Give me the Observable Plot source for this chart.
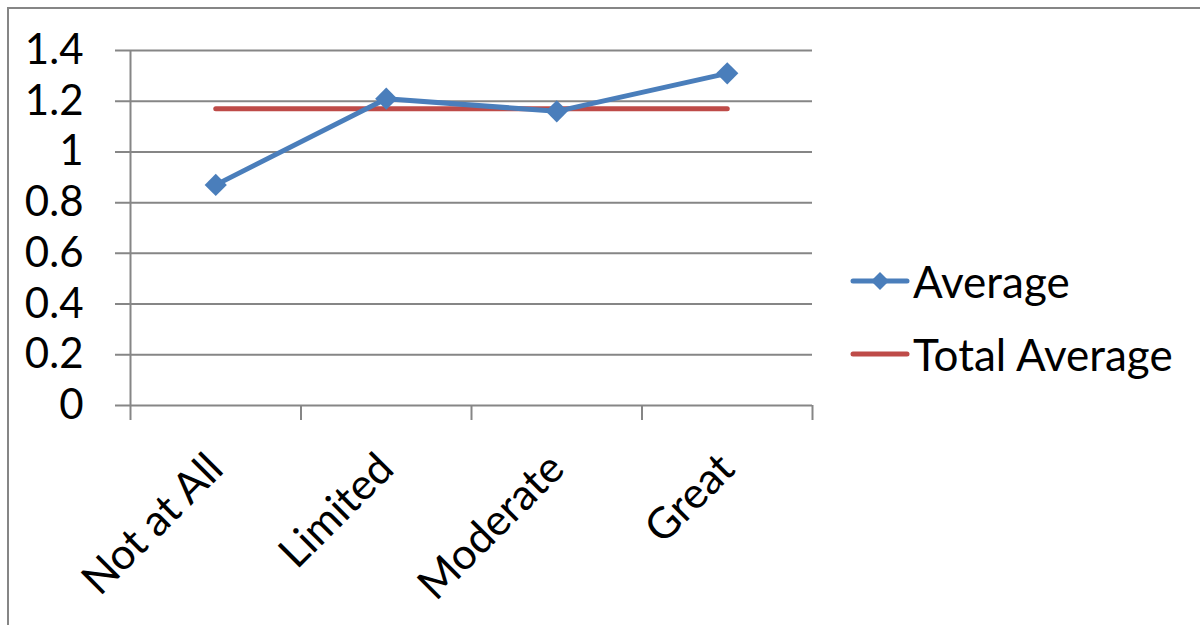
<!DOCTYPE html>
<html>
<head>
<meta charset="utf-8">
<script src="https://cdn.jsdelivr.net/npm/d3@7"></script>
<script src="https://cdn.jsdelivr.net/npm/@observablehq/plot@0.6"></script>
<style>
  html, body { margin: 0; padding: 0; background: #fff; }
  #wrap { position: relative; width: 1200px; height: 625px; overflow: hidden; font-family: Lato, "Open Sans", sans-serif; }
  #frame { position: absolute; left: 7px; top: 7px; width: 1300px; height: 700px; border-left: 2px solid #868686; border-top: 2px solid #868686; box-sizing: border-box; }
  #chart { position: absolute; left: 0; top: 0; }
  #legend { position: absolute; left: 850px; top: 244px; font-size: 44px; color: #000; }
  .item { display: flex; align-items: center; height: 73px; }
  .item svg { margin-right: 3px; }
</style>
</head>
<body>
<div id="wrap">
  <div id="frame"></div>
  <div id="chart"></div>
  <div id="legend"></div>
</div>
<script>
const categories = ["Not at All", "Limited", "Moderate", "Great"];
const average = [0.87, 1.21, 1.16, 1.31];
const totalAverage = [1.17, 1.17, 1.17, 1.17];
const yTicks = [0, 0.2, 0.4, 0.6, 0.8, 1, 1.2, 1.4];
const seriesNames = ["Average", "Total Average"];
const seriesColors = ["#4a7ebb", "#be4b48"];

const avgData = categories.map((c, i) => ({pos: i + 0.5, value: average[i]}));
const totData = categories.map((c, i) => ({pos: i + 0.5, value: totalAverage[i]}));
const gray = "#868686";

const plot = Plot.plot({
  width: 1200,
  height: 625,
  marginLeft: 130,
  marginRight: 388,
  marginTop: 50,
  marginBottom: 220,
  style: {fontFamily: "Lato, 'Open Sans', sans-serif", fontSize: "42px", color: "#000", background: "transparent", overflow: "visible"},
  x: {type: "linear", domain: [0, categories.length], axis: null},
  y: {domain: [0, 1.4], axis: null},
  marks: [
    Plot.ruleY(yTicks, {x1: 0, x2: categories.length, stroke: gray, strokeWidth: 2, insetLeft: -15}),
    Plot.ruleX([0], {y1: 0, y2: 1.4, stroke: gray, strokeWidth: 2}),
    Plot.axisX({ticks: d3.range(categories.length + 1), tickSize: 15, tickFormat: () => "", label: null, stroke: gray, strokeWidth: 2, strokeOpacity: 1}),
    Plot.axisY({ticks: yTicks, tickSize: 0, tickPadding: 47, label: null, tickFormat: d => d3.format("~g")(d), fontSize: 42, fill: "#000"}),
    Plot.axisX({ticks: categories.map((c, i) => i + 0.5), tickSize: 0, tickPadding: 56, tickRotate: -45, textAnchor: "end", label: null,
      tickFormat: d => categories[Math.floor(d)], fontSize: 43, fill: "#000", dx: 0}),
    Plot.line(totData, {x: "pos", y: "value", stroke: seriesColors[1], strokeWidth: 5, strokeLinecap: "round"}),
    Plot.line(avgData, {x: "pos", y: "value", stroke: seriesColors[0], strokeWidth: 5, strokeLinejoin: "round"}),
    Plot.dot(avgData, {x: "pos", y: "value", symbol: "diamond2", r: 10, fill: seriesColors[0], stroke: "none"})
  ]
});
document.getElementById("chart").appendChild(plot);

const legend = document.getElementById("legend");
seriesNames.forEach((name, i) => {
  const item = document.createElement("div");
  item.className = "item";
  const marker = i === 0 ? `<path d="M30,13 L39,22 L30,31 L21,22 Z" fill="${seriesColors[i]}"/>` : "";
  item.innerHTML = `<svg width="60" height="44"><line x1="3" y1="22" x2="57" y2="22" stroke="${seriesColors[i]}" stroke-width="5" stroke-linecap="round"/>${marker}</svg><span>${name}</span>`;
  legend.appendChild(item);
});
</script>
</body>
</html>
